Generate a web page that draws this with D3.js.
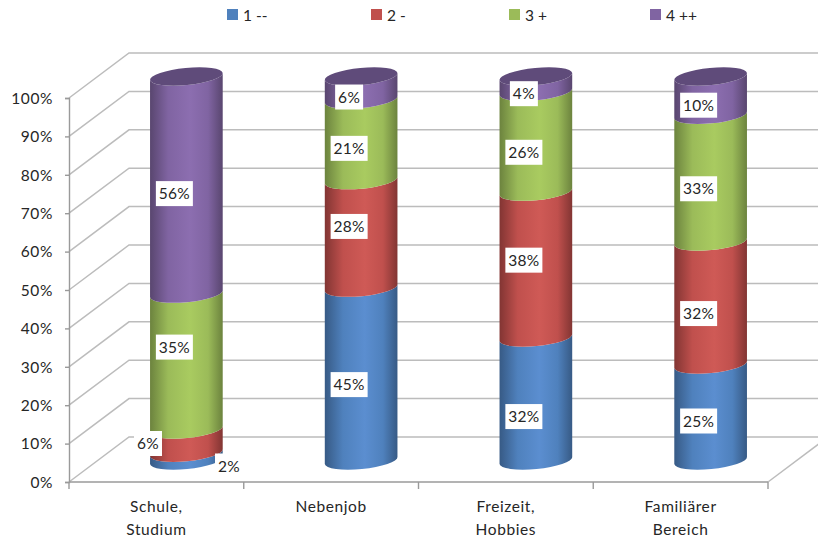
<!DOCTYPE html>
<html><head><meta charset="utf-8">
<script src="https://cdn.jsdelivr.net/npm/d3@7/dist/d3.min.js"></script>
<style>html,body{margin:0;padding:0;background:#fff}svg{display:block}text{font-family:Lato,"Open Sans",sans-serif;fill:#262626}</style>
</head><body><div id="c"></div>
<script>
const categories = [["Schule,","Studium"],["Nebenjob"],["Freizeit,","Hobbies"],["Familiärer","Bereich"]];
const seriesNames = ["1 --","2 -","3 +","4 ++"];
const series1 = [2,45,32,25];
const series2 = [6,28,38,32];
const series3 = [35,21,26,33];
const series4 = [56,6,4,10];
const yTicks = [0,10,20,30,40,50,60,70,80,90,100];
const colors = ["#4f81bd","#c0504d","#9bbb59","#8064a2"];
const centerColors = ["#5b8ed0","#cf5a56","#a9cb60","#8c6eb0"];
const edgeColors = ["#375a85","#823533","#6c833e","#59466f"];
const topColor = "#5f4b7a";

const W=818,H=539;
const svg=d3.select("#c").append("svg").attr("width",W).attr("height",H);
const x=d3.scaleBand().domain(d3.range(categories.length)).range([69,768]);
const y=d3.scaleLinear().domain([0,100]).range([482,98]);
const depthX=60,depthY=45;
const rx=36.5,ry=8.5,tilt=5.5,rad=tilt*Math.PI/180;
const dx=rx*Math.cos(rad),dy=rx*Math.sin(rad);

const defs=svg.append("defs");
colors.forEach((c,i)=>{
  const g=defs.append("linearGradient").attr("id","g"+i).attr("x1",0).attr("x2",1).attr("y1",0).attr("y2",0);
  [[0,edgeColors[i]],[.25,colors[i]],[.55,centerColors[i]],[.8,colors[i]],[1,edgeColors[i]]]
   .forEach(s=>g.append("stop").attr("offset",s[0]).attr("stop-color",s[1]));
});

// walls and floor
const gl=svg.append("g").attr("stroke","#bcbcbc").attr("stroke-width",1.5).attr("fill","none");
yTicks.forEach(t=>{
  const v=y(t);
  gl.append("path").attr("d",`M69,${v}L${69+depthX},${v-depthY}L${W},${v-depthY}`);
});
gl.append("line").attr("x1",x.range()[1]).attr("y1",y(0)).attr("x2",x.range()[1]+depthX).attr("y2",y(0)-depthY);

// axes
const axisText=g=>g.attr("font-size",15.5).attr("letter-spacing",0.6);
const yAxis=d3.axisLeft(y).tickValues(yTicks).tickFormat(d=>d+"%").tickSize(4).tickPadding(12);
const ya=svg.append("g").attr("transform","translate(69,0)").call(yAxis);
ya.selectAll("line,path").attr("stroke","#9a9a9a").attr("stroke-width",1.4);
ya.selectAll("text").call(axisText).attr("dy","0.34em");
const xa=svg.append("g").attr("stroke","#9a9a9a").attr("stroke-width",1.4);
xa.append("line").attr("x1",69).attr("x2",768).attr("y1",y(0)).attr("y2",y(0));
d3.range(categories.length+1).forEach(i=>{
  const p=69+i*x.step();
  xa.append("line").attr("x1",p).attr("x2",p).attr("y1",y(0)).attr("y2",y(0)+7);
});
categories.forEach((lines,i)=>{
  lines.forEach((l,j)=>svg.append("text").attr("x",x(i)+x.bandwidth()/2).attr("y",512+j*23)
    .attr("text-anchor","middle").call(axisText).text(l));
});

// stacked cylinders
const rows=categories.map((c,i)=>({i,s0:series1[i],s1:series2[i],s2:series3[i],s3:series4[i]}));
const layers=d3.stack().keys(["s0","s1","s2","s3"]).offset(d3.stackOffsetExpand)(rows);
const cx=i=>x(i)+x.bandwidth()/2+depthX/2;
const cy=v=>y(v*100)-depthY/2+1;
const seg=(i,a,b)=>{
  const c=cx(i),y0=cy(a),y1=cy(b);
  return `M${c-dx},${y0+dy}A${rx},${ry} ${-tilt} 0 0 ${c+dx},${y0-dy}L${c+dx},${y1-dy}A${rx},${ry} ${-tilt} 0 1 ${c-dx},${y1+dy}Z`;
};
const g=svg.append("g");
categories.forEach((_,i)=>{
  layers.forEach((L,k)=>{
    g.append("path").attr("d",seg(i,L[i][0],L[i][1])).attr("fill",`url(#g${k})`);
  });
  const c=cx(i),t=cy(layers[3][i][1]);
  g.append("ellipse").attr("cx",c).attr("cy",t).attr("rx",rx).attr("ry",ry)
   .attr("transform",`rotate(${-tilt} ${c} ${t})`).attr("fill",topColor);
});

// data labels: sit at segment middle, with the hand-placed shifts seen in the picture
const values=[series1,series2,series3,series4];
const shiftY=[[0,2,9,0],[0,-16,-13,2],[-23,0,2,2],[0,0.5,1,1]];
const lab=svg.append("g");
function label(px,py,txt){
  const w=txt.length>2?37:28,h=25;
  lab.append("rect").attr("x",px-w/2).attr("y",py-h/2).attr("width",w).attr("height",h).attr("fill","#fff");
  lab.append("text").attr("x",px).attr("y",py).attr("dy","0.36em").attr("text-anchor","middle").attr("font-size",15.5).attr("letter-spacing",0.3).text(txt);
}
layers.forEach((L,k)=>categories.forEach((_,i)=>{
  const mid=(L[i][0]+L[i][1])/2;
  let px=x(i)+x.bandwidth()/2+18, py=y(mid*100)-13+shiftY[k][i];
  const txt=values[k][i]+"%";
  if(i===0&&k===0){px=229;py=466;}
  if(i===0&&k===1){px=148;py=443.5;}
  label(px,py,txt);
}));

// legend
const lx=[227,371,509,650];
seriesNames.forEach((n,i)=>{
  svg.append("rect").attr("x",lx[i]).attr("y",9).attr("width",11).attr("height",11).attr("fill",colors[i]);
  svg.append("text").attr("x",lx[i]+16).attr("y",15).attr("dy","0.36em").attr("font-size",15.5).text(n);
});
</script></body></html>
